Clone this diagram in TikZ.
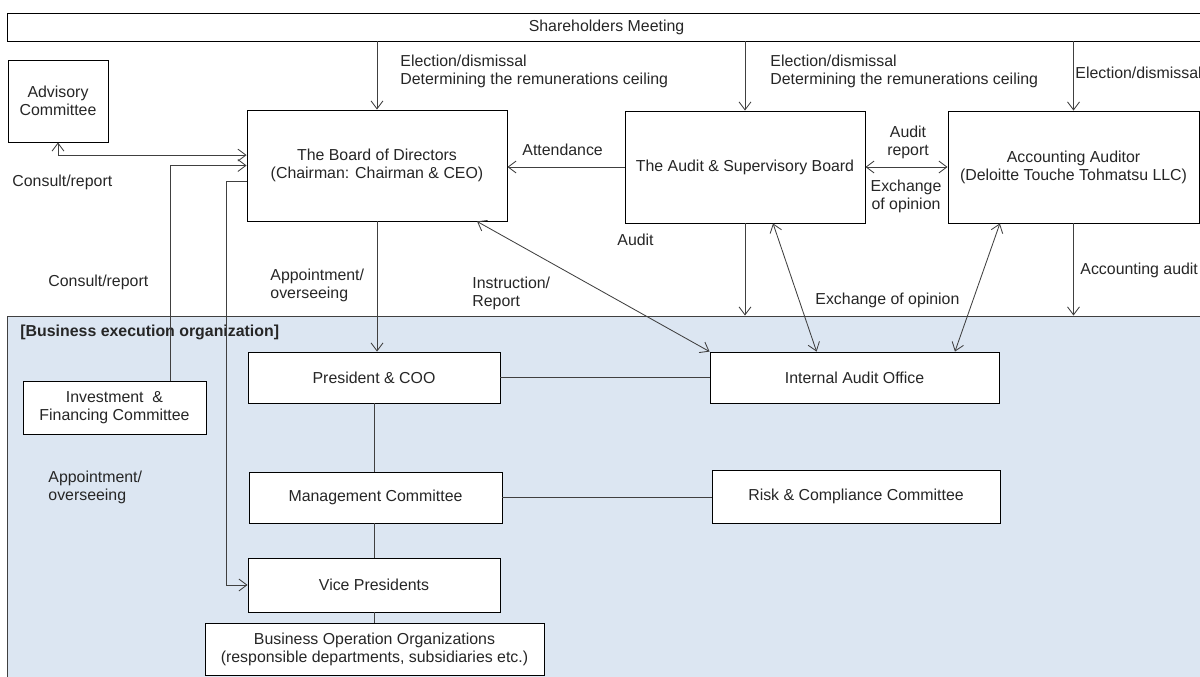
\documentclass[tikz,border=0pt]{standalone}
\usepackage{fontspec}
\setmainfont{Liberation Sans}
\usetikzlibrary{arrows.meta}
\definecolor{execblue}{HTML}{DCE6F2}
\definecolor{linegray}{HTML}{404040}
\definecolor{textgray}{HTML}{262626}

\begin{document}
\begin{tikzpicture}[x=0.025cm,y=-0.025cm,font=\fontsize{11.3}{12.8}\selectfont,line width=0.6pt,
  box/.style={draw=black,fill=white,align=center,inner sep=0pt,text=textgray},
  lbl/.style={anchor=west,align=left,inner sep=0pt,text=textgray},
  link/.style={draw=linegray},
  tip/.style={link,-{Straight Barb[length=2mm,width=3mm]}},
  tips/.style={link,{Straight Barb[length=2mm,width=3mm]}-{Straight Barb[length=2mm,width=3mm]}}]
\useasboundingbox (0,0) rectangle (1200,676);
\node[draw=linegray,fill=execblue,minimum width=29.925cm,minimum height=9.1cm,inner sep=0pt] (exec) at (606.5,498) {};
\node[lbl,font=\fontsize{11.3}{12.8}\selectfont\bfseries] (execlbl) at (20,332) {[Business execution organization]};
\node[box,minimum width=29.925cm,minimum height=0.7cm] (share) at (606.5,27) {Shareholders Meeting};
\node[box,minimum width=2.5cm,minimum height=2.05cm] (adv) at (58,101) {Advisory\\Committee};
\node[box,minimum width=6.5cm,minimum height=2.775cm] (board) at (377,165.5) {The Board of Directors\\(Chairman: Chairman \& CEO)};
\node[box,minimum width=6cm,minimum height=2.8cm] (asb) at (745,167) {The Audit \& Supervisory Board};
\node[box,minimum width=6.275cm,minimum height=2.8cm] (acc) at (1073.5,167) {Accounting Auditor\\(Deloitte Touche Tohmatsu LLC)};
\node[box,minimum width=4.575cm,minimum height=1.325cm] (inv) at (114.5,407.5) {Investment \ \&\\Financing Committee};
\node[box,minimum width=6.3cm,minimum height=1.275cm] (pres) at (374,377.5) {President \& COO};
\node[box,minimum width=6.325cm,minimum height=1.275cm] (mgmt) at (375.5,497.5) {Management Committee};
\node[box,minimum width=6.3cm,minimum height=1.35cm] (vp) at (374,585) {Vice Presidents};
\node[box,minimum width=8.475cm,minimum height=1.3cm] (bus) at (374.5,649) {Business Operation Organizations\\(responsible departments, subsidiaries etc.)};
\node[box,minimum width=7.225cm,minimum height=1.275cm] (iao) at (854.5,377.5) {Internal Audit Office};
\node[box,minimum width=7.2cm,minimum height=1.325cm] (risk) at (856,496.5) {Risk \& Compliance Committee};
% labels
\node[lbl] (elect1) at (400,71) {Election/dismissal\\Determining the remunerations ceiling};
\node[lbl] (elect2) at (770,71) {Election/dismissal\\Determining the remunerations ceiling};
\node[lbl] (elect3) at (1075,73) {Election/dismissal};
\node[lbl] (consult1) at (12,182) {Consult/report};
\node[lbl] (consult2) at (48,282) {Consult/report};
\node[lbl] (attend) at (522,150) {Attendance};
\node[lbl,anchor=center,align=center] (auditrep) at (908,142) {Audit\\report};
\node[lbl,anchor=center,align=center] (exch1) at (906,196) {Exchange\\of opinion};
\node[lbl] (audit) at (617,240) {Audit};
\node[lbl] (appoint1) at (270,285) {Appointment/\\overseeing};
\node[lbl] (instr) at (472,293) {Instruction/\\Report};
\node[lbl] (exch2) at (815,300) {Exchange of opinion};
\node[lbl] (accaudit) at (1080,270) {Accounting audit};
\node[lbl] (appoint2) at (48,487) {Appointment/\\overseeing};
% connectors
\draw[tip] (board |- share.south) -- (board.north);
\draw[tip] (asb |- share.south) -- (asb.north);
\draw[tip] (acc |- share.south) -- (acc.north);
\draw[tips] (adv.south) |- ([yshift=0.26cm]board.west);
\draw[tip] ([xshift=1.39cm]inv.north) |- (board.west);
\draw[tip] ([yshift=-0.39cm]board.west) -- ++(-20,0) |- (vp.west);
\draw[tip] (board.south) -- (board.south |- pres.north);
\draw[link] (pres.south) -- (pres.south |- mgmt.north);
\draw[link] (pres.south |- mgmt.south) -- (pres.south |- vp.north);
\draw[link] (vp.south) -- (vp.south |- bus.north);
\draw[link] (pres.east) -- (iao.west);
\draw[link] (mgmt.east) -- (mgmt.east -| risk.west);
\draw[tip] (asb.west) -- (asb.west -| board.east);
\draw[tips] (asb.east) -- (acc.west);
\draw[tips] ([xshift=2.5cm]board.south) -- (iao.north west);
\draw[tips] ([xshift=0.7cm]asb.south) -- ([xshift=2.675cm]iao.north west);
\draw[tips] ([xshift=-1.84cm]acc.south) -- ([xshift=2.51cm]iao.north);
\draw[tip] (asb.south) -- (asb.south |- exec.north);
\draw[tip] (acc.south) -- (acc.south |- exec.north);
\end{tikzpicture}
\end{document}
